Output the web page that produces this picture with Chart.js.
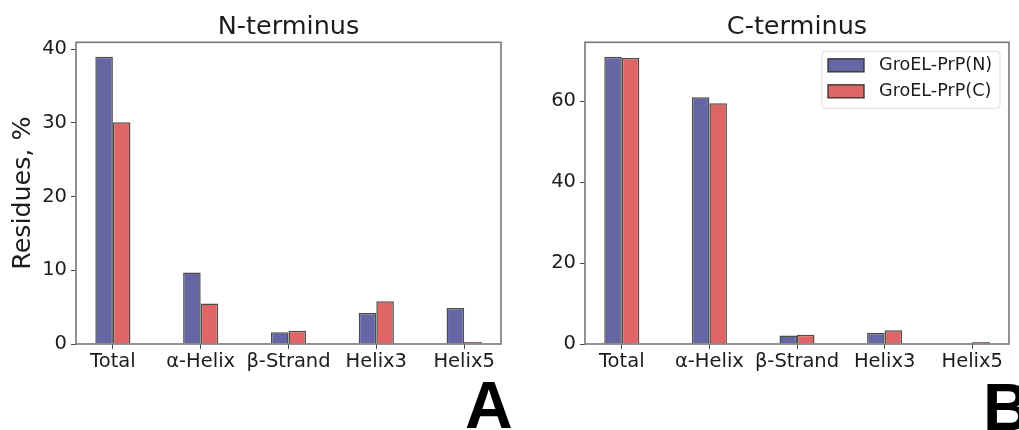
<!DOCTYPE html>
<html>
<head>
<meta charset="utf-8">
<script src="https://cdn.jsdelivr.net/npm/chart.js@4"></script>
<style>
  body { margin: 0; width: 1019px; height: 430px; overflow: hidden; background: #fff; position: relative; }
  canvas { position: absolute; top: 0; }
  .tag { position: absolute; font: bold 66px "Liberation Sans", Arial, sans-serif; line-height: 66px; color: #000; }
</style>
</head>
<body>
<canvas id="nChart" width="505" height="430" style="left:0"></canvas>
<canvas id="cChart" width="514" height="430" style="left:505px"></canvas>
<div class="tag" style="left:465px; top:372px">A</div>
<div class="tag" style="left:983px; top:374px">B</div>
<script>
const cats = ['Total', 'α-Helix', 'β-Strand', 'Helix3', 'Helix5'];
const seriesNames = ['GroEL-PrP(N)', 'GroEL-PrP(C)'];
// N-terminus panel
const nTermN = [39.0, 9.7, 1.6, 4.2, 4.9];
const nTermC = [30.1, 5.5, 1.8, 5.8, 0.3];
const nTicks = [0, 10, 20, 30, 40];
// C-terminus panel
const cTermN = [71.0, 61.0, 2.1, 2.8, 0.1];
const cTermC = [70.7, 59.5, 2.3, 3.4, 0.5];
const cTicks = [0, 20, 40, 60];

const blue = '#6566a3';
const red = '#e06666';
const font = 'DejaVu Sans';
const ink = '#1c1c1c';

// frame round the plot area, like matplotlib spines
const frame = {
  id: 'frame',
  afterDraw(chart) {
    const a = chart.chartArea, ctx = chart.ctx;
    ctx.save();
    ctx.strokeStyle = '#777';
    ctx.lineWidth = 1.6;
    ctx.strokeRect(a.left, a.top, a.right - a.left, a.bottom - a.top);
    ctx.restore();
  }
};

// legend inside the top right corner
const innerLegend = {
  id: 'innerLegend',
  afterDraw(chart, args, opts) {
    if (!opts.show) return;
    const ctx = chart.ctx;
    const x = chart.chartArea.right - 187, y = chart.chartArea.top + 9;
    ctx.save();
    ctx.fillStyle = 'rgba(255,255,255,0.9)';
    ctx.strokeStyle = '#dcdcdc';
    ctx.lineWidth = 1;
    ctx.beginPath();
    ctx.roundRect(x, y, 178, 57, 3);
    ctx.fill();
    ctx.stroke();
    ctx.font = '17.6px "' + font + '"';
    ctx.textBaseline = 'middle';
    chart.data.datasets.forEach((ds, i) => {
      const cy = y + 14 + i * 26;
      ctx.fillStyle = ds.backgroundColor;
      ctx.fillRect(x + 6, cy - 6.5, 36, 13);
      ctx.strokeStyle = ds.borderColor;
      ctx.lineWidth = 1.5;
      ctx.strokeRect(x + 6, cy - 6.5, 36, 13);
      ctx.fillStyle = ink;
      ctx.fillText(ds.label, x + 57, cy);
    });
    ctx.restore();
  }
};

function points(vals) {
  return vals.map((v, i) => ({ x: i, y: v }));
}

function makeChart(id, title, nVals, cVals, ticks, yMax, opt) {
  return new Chart(document.getElementById(id), {
    type: 'bar',
    data: {
      datasets: [
        { label: seriesNames[0], data: points(nVals), backgroundColor: blue,
          borderColor: 'rgba(45,45,45,0.85)', borderWidth: 1.5 },
        { label: seriesNames[1], data: points(cVals), backgroundColor: red,
          borderColor: 'rgba(45,45,45,0.85)', borderWidth: 1.5 }
      ]
    },
    options: {
      responsive: false,
      animation: false,
      categoryPercentage: 0.4,
      barPercentage: 1.0,
      layout: { padding: { left: 0, right: opt.padRight, top: 0, bottom: 0 } },
      plugins: {
        legend: { display: false },
        tooltip: { enabled: false },
        title: {
          display: true, text: title, fullSize: false, color: ink,
          font: { family: font, size: 25.5, weight: 'normal', lineHeight: 1.2 },
          padding: { top: 11.7, bottom: 0 }
        },
        innerLegend: { show: opt.legend }
      },
      scales: {
        x: {
          type: 'linear', min: -0.42, max: 4.42, offset: false,
          afterBuildTicks: s => { s.ticks = cats.map((c, i) => ({ value: i })); },
          afterFit: s => { s.height = 86; },
          grid: { offset: false, drawOnChartArea: false, drawTicks: true, tickLength: 5, color: '#444' },
          border: { display: false },
          ticks: {
            color: ink, padding: 1.3, maxRotation: 0, autoSkip: false,
            font: { family: font, size: 19.5 },
            callback: v => cats[v]
          }
        },
        y: {
          min: 0, max: yMax,
          afterBuildTicks: s => { s.ticks = ticks.map(v => ({ value: v })); },
          afterFit: s => { s.width = opt.yWidth; },
          grid: { drawOnChartArea: false, drawTicks: true, tickLength: 5, color: '#444' },
          border: { display: false },
          ticks: { color: ink, padding: 4, font: { family: font, size: 19.5 } },
          title: {
            display: opt.yTitle, text: 'Residues, %', color: ink,
            font: { family: font, size: 25.3, lineHeight: 1.2 },
            padding: { top: 7.8, bottom: 0 }
          }
        }
      }
    },
    plugins: [frame, innerLegend]
  });
}

makeChart('nChart', 'N-terminus', nTermN, nTermC, nTicks, 40.95,
  { padRight: 4, yWidth: 76, yTitle: true, legend: false });
makeChart('cChart', 'C-terminus', cTermN, cTermC, cTicks, 74.55,
  { padRight: 10, yWidth: 80, yTitle: false, legend: true });
</script>
</body>
</html>
